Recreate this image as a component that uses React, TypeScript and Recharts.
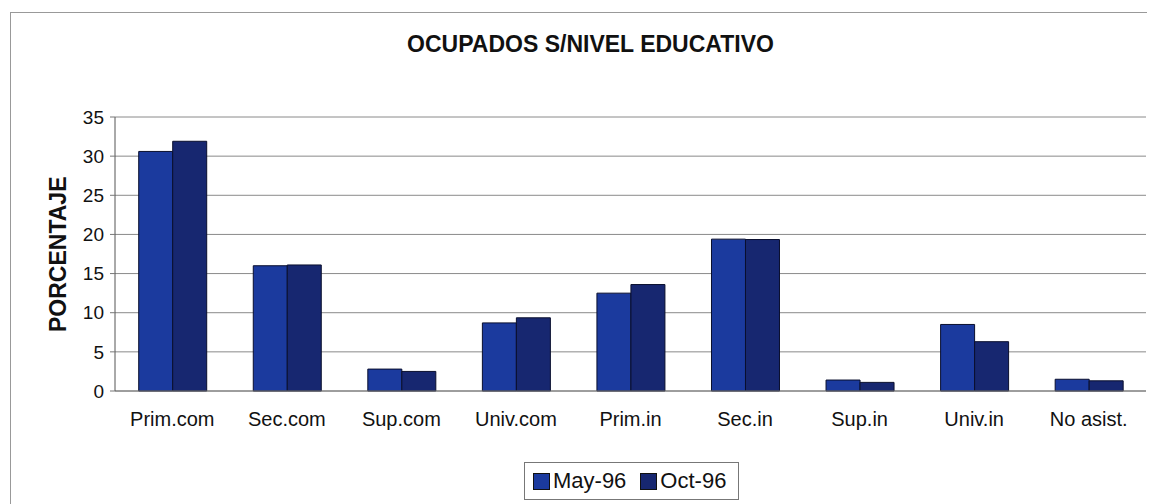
import { Bar, BarChart, CartesianGrid, Legend, XAxis, YAxis } from "recharts";

// Ocupados segun nivel educativo, porcentaje
const categorias = [
  "Prim.com",
  "Sec.com",
  "Sup.com",
  "Univ.com",
  "Prim.in",
  "Sec.in",
  "Sup.in",
  "Univ.in",
  "No asist.",
];
const may96 = [30.6, 16.0, 2.8, 8.7, 12.5, 19.4, 1.4, 8.5, 1.5];
const oct96 = [31.9, 16.1, 2.5, 9.35, 13.6, 19.35, 1.1, 6.3, 1.3];
const yTicks = [0, 5, 10, 15, 20, 25, 30, 35];

const data = categorias.map((nivel, i) => ({
  nivel,
  may: may96[i],
  oct: oct96[i],
}));

const FONT = "'Liberation Sans', Arial, sans-serif";
const MAY_COLOR = "#1b3a9e";
const OCT_COLOR = "#172770";

const LegendBox = () => (
  <div
    style={{
      display: "inline-flex",
      alignItems: "center",
      border: "1px solid #777",
      padding: "6px 12px 6px 8px",
      fontFamily: FONT,
      fontSize: 22,
      color: "#111",
      background: "#fff",
      lineHeight: "24px",
      whiteSpace: "nowrap",
    }}
  >
    <span style={{ width: 15, height: 15, background: MAY_COLOR, border: "1px solid #111", marginRight: 3 }} />
    <span style={{ marginRight: 14 }}>May-96</span>
    <span style={{ width: 15, height: 15, background: OCT_COLOR, border: "1px solid #111", marginRight: 3 }} />
    <span>Oct-96</span>
  </div>
);

export default function App() {
  return (
    <div style={{ position: "relative", width: 1147, height: 496, background: "#fff" }}>
      <div
        style={{
          position: "absolute",
          left: 2,
          top: 4,
          width: 1160,
          height: 500,
          borderLeft: "1px solid #999",
          borderTop: "1px solid #999",
        }}
      />
      <div
        style={{
          position: "absolute",
          left: 9,
          width: 1147,
          top: 23,
          textAlign: "center",
          fontFamily: FONT,
          fontWeight: "bold",
          fontSize: 23,
          color: "#111",
        }}
      >
        OCUPADOS S/NIVEL EDUCATIVO
      </div>
      <BarChart
        width={1147}
        height={496}
        data={data}
        margin={{ top: 109, right: 9, left: 67, bottom: 0 }}
        barCategoryGap="20.7%"
        barGap={0}
        style={{ position: "absolute", left: 0, top: 0 }}
      >
        <CartesianGrid vertical={false} stroke="#8a8a8a" strokeWidth={1} />
        <XAxis
          dataKey="nivel"
          height={75}
          tickLine={false}
          axisLine={{ stroke: "#777" }}
          tick={{ fill: "#111", fontSize: 20, fontFamily: FONT }}
          tickMargin={15}
          interval={0}
        />
        <YAxis
          domain={[0, 35]}
          ticks={yTicks}
          width={40}
          tickSize={5}
          tickMargin={6}
          tickLine={{ stroke: "#777" }}
          axisLine={{ stroke: "#555" }}
          tick={{ fill: "#111", fontSize: 19, fontFamily: FONT }}
          label={{
            value: "PORCENTAJE",
            angle: -90,
            position: "insideLeft",
            dx: -22,
            dy: 78,
            style: { fontFamily: FONT, fontWeight: "bold", fontSize: 23, fill: "#111" },
          }}
        />
        <YAxis yAxisId="r" orientation="right" width={0} tick={false} tickLine={false} axisLine={{ stroke: "#8a8a8a" }} />
        <Legend
          content={() => <LegendBox />}
          wrapperStyle={{ left: 516, top: 454, width: "auto", bottom: "auto" }}
        />
        <Bar dataKey="may" name="May-96" fill={MAY_COLOR} stroke="#0a0f2e" strokeWidth={1} isAnimationActive={false} />
        <Bar dataKey="oct" name="Oct-96" fill={OCT_COLOR} stroke="#0a0f2e" strokeWidth={1} isAnimationActive={false} />
      </BarChart>
    </div>
  );
}
